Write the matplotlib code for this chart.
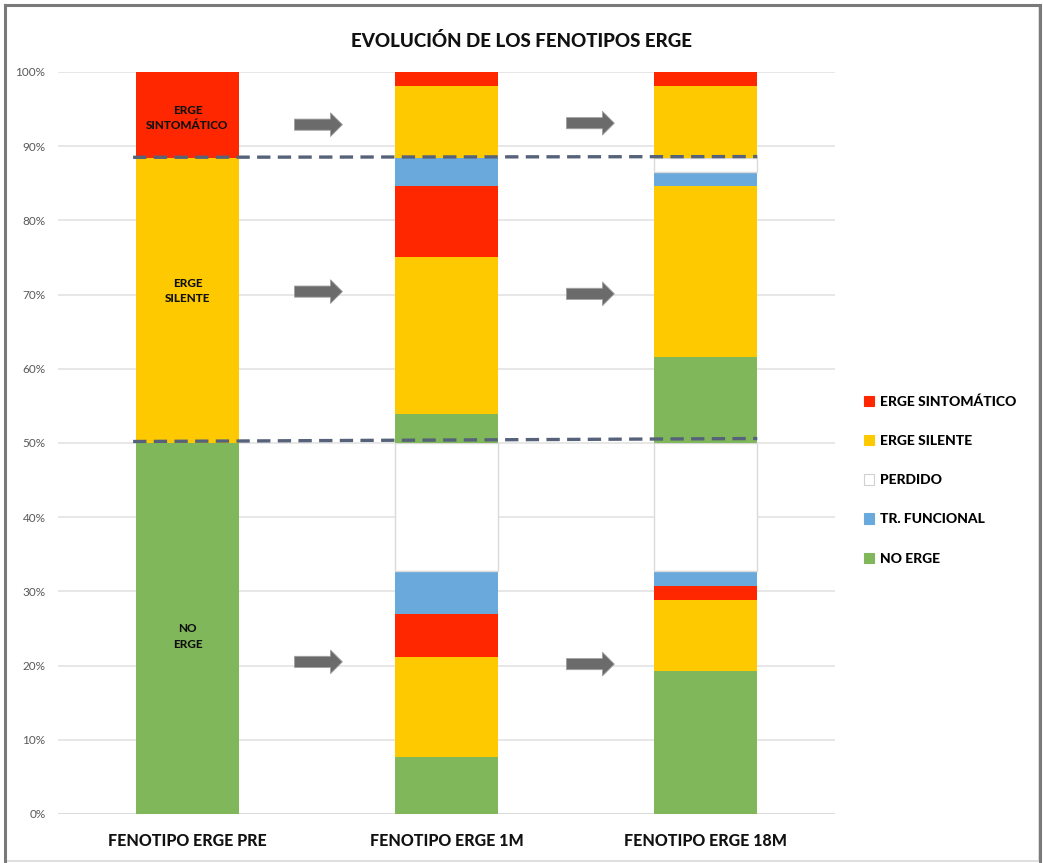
import matplotlib
matplotlib.use("Agg")
import matplotlib.pyplot as plt
from matplotlib.patches import Rectangle, FancyArrow
from matplotlib.lines import Line2D

plt.rcParams['font.family'] = ['Lato', 'DejaVu Sans']

# Bars (100% stacked, values in %)
categories = ["FENOTIPO ERGE PRE", "FENOTIPO ERGE 1M", "FENOTIPO ERGE 18M"]

# Segments of each bar, listed from the bottom up
pre_phenotypes = ["NO ERGE", "ERGE SILENTE", "ERGE SINTOMÁTICO"]
pre_values = [50.00, 38.46, 11.54]

m1_phenotypes = ["NO ERGE", "ERGE SILENTE", "ERGE SINTOMÁTICO", "TR. FUNCIONAL",
                 "PERDIDO",
                 "NO ERGE", "ERGE SILENTE", "ERGE SINTOMÁTICO", "TR. FUNCIONAL",
                 "ERGE SILENTE", "ERGE SINTOMÁTICO"]
m1_values = [7.69, 13.46, 5.77, 5.77, 17.31, 3.85, 21.15, 9.62, 3.85, 9.62, 1.92]

m18_phenotypes = ["NO ERGE", "ERGE SILENTE", "ERGE SINTOMÁTICO", "TR. FUNCIONAL",
                  "PERDIDO",
                  "NO ERGE", "ERGE SILENTE", "TR. FUNCIONAL", "PERDIDO",
                  "ERGE SILENTE", "ERGE SINTOMÁTICO"]
m18_values = [19.23, 9.62, 1.92, 1.92, 17.31, 11.54, 23.08, 1.92, 1.92, 9.62, 1.92]

legend_order = ["ERGE SINTOMÁTICO", "ERGE SILENTE", "PERDIDO", "TR. FUNCIONAL", "NO ERGE"]
colors = {
    "ERGE SINTOMÁTICO": "#FF2700",
    "ERGE SILENTE": "#FFC900",
    "PERDIDO": "#FFFFFF",
    "TR. FUNCIONAL": "#6AA9DB",
    "NO ERGE": "#80B75A",
}

# Labels inside the PRE bar
pre_labels = ["NO\nERGE", "ERGE\nSILENTE", "ERGE\nSINTOMÁTICO"]
pre_label_y = [23.9, 70.5, 93.8]

# Transition arrows (y level in %) between consecutive bars
arrow_levels_a = [92.9, 70.4, 20.5]
arrow_levels_b = [93.1, 70.1, 20.2]

# Dashed reference levels (start %, end %)
upper_ref = (88.5, 88.6)
lower_ref = (50.2, 50.6)

BOLD = 900

fig = plt.figure(figsize=(10.43, 8.63), dpi=100)
ax = fig.add_axes([0.0556, 0.0568, 0.745, 0.8598])

bar_w = 0.40
stacks = [(pre_phenotypes, pre_values), (m1_phenotypes, m1_values), (m18_phenotypes, m18_values)]
for i, (phens, vals) in enumerate(stacks):
    bottom = 0.0
    for ph, v in zip(phens, vals):
        edge = "#DADADA" if ph == "PERDIDO" else colors[ph]
        lw = 1.0 if ph == "PERDIDO" else 0.0
        ax.bar(i, v, bottom=bottom, width=bar_w, color=colors[ph],
               edgecolor=edge, linewidth=lw, zorder=2)
        bottom += v

for txt, yv in zip(pre_labels, pre_label_y):
    ax.text(0, yv, txt, ha="center", va="center", fontsize=8.5,
            fontweight=BOLD, color="#111111", linespacing=1.5, zorder=4)

# Arrows between bars
def draw_arrow(x0, y):
    ax.add_patch(FancyArrow(x0, y, 0.185, 0, width=1.5, head_width=3.2,
                            head_length=0.046, length_includes_head=True,
                            color="#6B6B6B", ec="#A0A0A0", lw=0.6, zorder=3))

for y in arrow_levels_a:
    draw_arrow(0.413, y)
for y in arrow_levels_b:
    draw_arrow(1.463, y)

# Dashed reference lines
ax.plot([-bar_w / 2 - 0.01, 2 + bar_w / 2], list(upper_ref), ls=(0, (4, 2.2)),
        color="#56627A", lw=2.4, zorder=5)
ax.plot([-bar_w / 2 - 0.01, 2 + bar_w / 2], list(lower_ref), ls=(0, (4, 2.2)),
        color="#56627A", lw=2.4, zorder=5)

ax.set_xlim(-0.5, 2.5)
ax.set_ylim(0, 100)
ax.set_yticks(range(0, 101, 10))
ax.set_yticklabels([f"{t}%" for t in range(0, 101, 10)], fontsize=8.5, color="#595959")
ax.set_xticks(range(3))
ax.set_xticklabels(categories, fontsize=11.5, fontweight=BOLD, color="#111111")
ax.tick_params(axis="both", length=0)
ax.tick_params(axis="x", pad=14)
ax.tick_params(axis="y", pad=9)
ax.yaxis.grid(True, color="#E3E3E3", lw=1.2, zorder=0)
ax.set_axisbelow(True)
for s in ax.spines.values():
    s.set_visible(False)
ax.axhline(0, color="#DADADA", lw=1.2, zorder=1)

fig.text(0.5, 0.953, "EVOLUCIÓN DE LOS FENOTIPOS ERGE", ha="center", va="center",
         fontsize=13.5, fontweight=BOLD, color="#111111")

# Legend
handles = []
for name in legend_order:
    ec = "#D0D0D0" if name == "PERDIDO" else colors[name]
    handles.append(Rectangle((0, 0), 1, 1, fc=colors[name], ec=ec, lw=0.8))
leg = fig.legend(handles, legend_order, loc="upper left",
                 bbox_to_anchor=(0.816, 0.556), frameon=False,
                 prop={"weight": BOLD, "size": 10}, handlelength=0.75,
                 handleheight=0.75, handletextpad=0.45, labelspacing=1.95)

# Chart frame
fig.patches.append(Rectangle((5 / 1043, 2 / 863), 1034 / 1043, 856 / 863,
                             transform=fig.transFigure, fill=False,
                             ec="#D9D9D9", lw=1.2, zorder=0))
fig.add_artist(Line2D([5 / 1043, 5 / 1043], [2 / 863, 858 / 863], color="#7A7A7A", lw=2.2,
                      transform=fig.transFigure))
fig.add_artist(Line2D([5 / 1043, 1040 / 1043], [858 / 863, 858 / 863], color="#7A7A7A", lw=2.2,
                      transform=fig.transFigure))
fig.add_artist(Line2D([1040 / 1043, 1040 / 1043], [2 / 863, 858 / 863], color="#7A7A7A", lw=2.2,
                      transform=fig.transFigure))

fig.savefig("out.png", dpi=100)
